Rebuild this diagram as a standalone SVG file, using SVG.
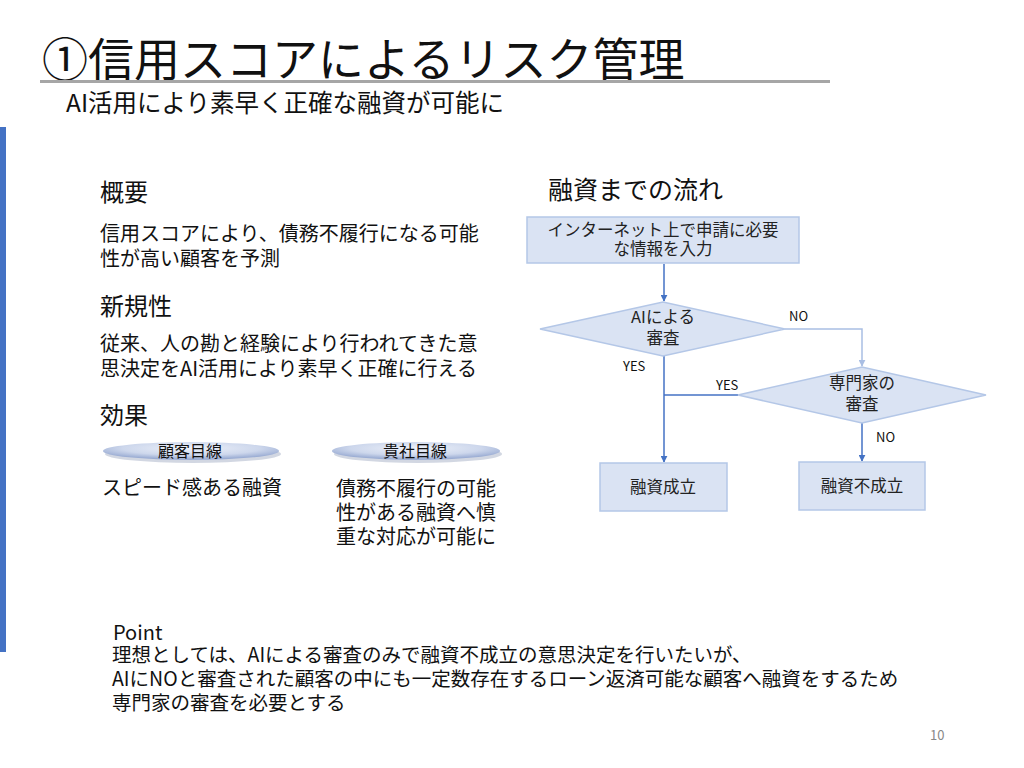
<svg xmlns="http://www.w3.org/2000/svg" width="1024" height="768" viewBox="0 0 1024 768">
<defs>
<style>
text{font-family:"Noto Sans CJK JP","Noto Sans",sans-serif;fill:#111}
.h{font-size:24px}
.b{font-size:20px}
.f{font-size:16.5px;text-anchor:middle;fill:#222}
.l{font-size:13px;fill:#111}
.box{fill:#DAE3F3;stroke:#B4C7E7;stroke-width:1.5}
.c{stroke:#4472C4;stroke-width:1.5;fill:none}
.c2{stroke:#A9BEE3;stroke-width:1.5;fill:none}
.p{font-size:19.5px}
</style>
<marker id="a" viewBox="0 0 10 10" refX="9" refY="5" markerWidth="7" markerHeight="7" orient="auto" markerUnits="userSpaceOnUse">
<path d="M0,0 L10,5 L0,10 z" fill="#4472C4"/>
</marker>
<marker id="a2" viewBox="0 0 10 10" refX="9" refY="5" markerWidth="7" markerHeight="7" orient="auto" markerUnits="userSpaceOnUse">
<path d="M0,0 L10,5 L0,10 z" fill="#A9BEE3"/>
</marker>
<radialGradient id="g" cx="0.5" cy="0.35" r="0.6">
<stop offset="0" stop-color="#EEF2FA"/>
<stop offset="0.65" stop-color="#CDD7EC"/>
<stop offset="1" stop-color="#9AACD3"/>
</radialGradient>
</defs>
<rect width="1024" height="768" fill="#fff"/>
<rect x="0" y="127" width="6" height="525" fill="#4472C4"/>
<g id="title">
<text x="42" y="76" style="font-size:46px" fill="#111">①信用スコアによるリスク管理</text>
<rect x="40" y="80" width="790" height="3" fill="#A6A6A6"/>
<text x="66" y="112" style="font-size:24.5px">AI活用により素早く正確な融資が可能に</text>
</g>
<g id="left">
<text x="100" y="201" class="h">概要</text>
<text x="100" y="241" class="b">信用スコアにより、債務不履行になる可能</text>
<text x="100" y="266" class="b">性が高い顧客を予測</text>
<text x="100" y="315" class="h">新規性</text>
<text x="100" y="351" class="b">従来、人の勘と経験により行われてきた意</text>
<text x="100" y="376" class="b">思決定をAI活用により素早く正確に行える</text>
<text x="100" y="424" class="h">効果</text>
</g>
<g id="customer">
<ellipse cx="193" cy="454" rx="88" ry="9" fill="#7F8DAB" opacity="0.35"/>
<ellipse cx="191" cy="451" rx="88" ry="9" fill="url(#g)"/>
<text x="190" y="457" style="font-size:16px;text-anchor:middle">顧客目線</text>
<text x="102" y="495" class="b">スピード感ある融資</text>
</g>
<g id="company">
<ellipse cx="418" cy="454" rx="84" ry="9" fill="#7F8DAB" opacity="0.35"/>
<ellipse cx="416" cy="451" rx="84" ry="9" fill="url(#g)"/>
<text x="415" y="457" style="font-size:16px;text-anchor:middle">貴社目線</text>
<text x="336" y="496" class="b">債務不履行の可能</text>
<text x="336" y="520" class="b">性がある融資へ慎</text>
<text x="336" y="544" class="b">重な対応が可能に</text>
</g>
<text x="548" y="199" style="font-size:25px">融資までの流れ</text>
<g id="connectors">
<line x1="664" y1="264" x2="664" y2="301" class="c" marker-end="url(#a)"/>
<polyline points="785,329 862,329 862,366" class="c2" marker-end="url(#a2)"/>
<line x1="664" y1="356" x2="664" y2="462" class="c" marker-end="url(#a)"/>
<line x1="738" y1="395" x2="664" y2="395" class="c"/>
<line x1="862" y1="423" x2="862" y2="461" class="c" marker-end="url(#a)"/>
<text x="789" y="321" class="l">NO</text>
<text x="623" y="371" class="l">YES</text>
<text x="716" y="390" class="l">YES</text>
<text x="876" y="442" class="l">NO</text>
</g>
<g id="input">
<rect x="527" y="217" width="272" height="46" class="box"/>
<text x="663" y="236" class="f">インターネット上で申請に必要</text>
<text x="663" y="255" class="f">な情報を入力</text>
</g>
<g id="ai">
<polygon points="540,329 663,302 785,329 663,356" class="box"/>
<text x="663" y="323" class="f">AIによる</text>
<text x="663" y="344" class="f">審査</text>
</g>
<g id="expert">
<polygon points="738,395 862,367 986,395 862,423" class="box"/>
<text x="862" y="389" class="f">専門家の</text>
<text x="862" y="410" class="f">審査</text>
</g>
<g id="ok">
<rect x="600" y="463" width="127" height="48" class="box"/>
<text x="663" y="493" class="f">融資成立</text>
</g>
<g id="ng">
<rect x="799" y="462" width="126" height="48" class="box"/>
<text x="862" y="492" class="f">融資不成立</text>
</g>
<g id="point">
<text x="113" y="640" style="font-size:20px">Point</text>
<text x="112" y="662" class="p">理想としては、AIによる審査のみで融資不成立の意思決定を行いたいが、</text>
<text x="112" y="686" class="p">AIにNOと審査された顧客の中にも一定数存在するローン返済可能な顧客へ融資をするため</text>
<text x="112" y="710" class="p">専門家の審査を必要とする</text>
</g>
<text x="930" y="740" style="font-size:13px;fill:#888">10</text>
</svg>
